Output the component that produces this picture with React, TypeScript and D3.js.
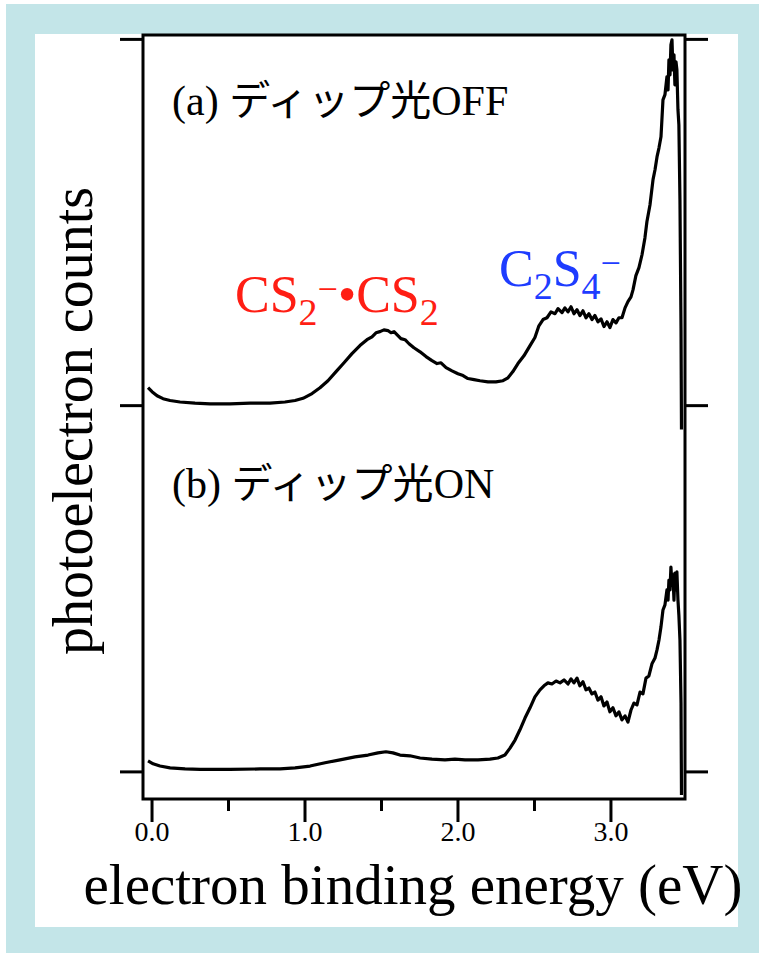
import React from "react";
import * as d3 from "d3";

// binding energy (eV) and counts for (a) dip light OFF
const energyA = [-0.026, 0, 0.033, 0.072, 0.118, 0.183, 0.281, 0.379, 0.51, 0.641, 0.771, 0.869, 0.935, 0.987, 1.046, 1.098, 1.15, 1.203, 1.255, 1.307, 1.359, 1.405, 1.438, 1.464, 1.49, 1.516, 1.542, 1.562, 1.582, 1.601, 1.627, 1.654, 1.68, 1.712, 1.752, 1.791, 1.83, 1.863, 1.889, 1.922, 1.961, 2.0, 2.033, 2.065, 2.105, 2.144, 2.196, 2.248, 2.294, 2.327, 2.359, 2.392, 2.431, 2.471, 2.503, 2.529, 2.556, 2.582, 2.608, 2.634, 2.654, 2.68, 2.699, 2.719, 2.739, 2.758, 2.778, 2.797, 2.817, 2.837, 2.856, 2.876, 2.895, 2.915, 2.935, 2.954, 2.974, 2.993, 3.013, 3.033, 3.052, 3.072, 3.092, 3.111, 3.131, 3.144, 3.163, 3.183, 3.203, 3.222, 3.235, 3.255, 3.275, 3.288, 3.301, 3.314, 3.327, 3.333, 3.34, 3.353, 3.366, 3.373, 3.379, 3.386, 3.392, 3.399, 3.405, 3.412, 3.418, 3.425, 3.431, 3.438, 3.444, 3.451, 3.458, 3.461];
const countsA = [0.049, 0.038, 0.027, 0.019, 0.014, 0.01, 0.007, 0.005, 0.005, 0.007, 0.007, 0.01, 0.014, 0.02, 0.033, 0.049, 0.068, 0.093, 0.117, 0.142, 0.164, 0.18, 0.188, 0.199, 0.202, 0.207, 0.205, 0.199, 0.202, 0.194, 0.183, 0.18, 0.169, 0.158, 0.147, 0.134, 0.123, 0.115, 0.117, 0.104, 0.095, 0.087, 0.082, 0.074, 0.071, 0.068, 0.065, 0.065, 0.068, 0.076, 0.093, 0.115, 0.136, 0.164, 0.186, 0.218, 0.235, 0.24, 0.256, 0.251, 0.265, 0.254, 0.267, 0.256, 0.27, 0.251, 0.262, 0.246, 0.259, 0.24, 0.251, 0.235, 0.246, 0.229, 0.237, 0.216, 0.229, 0.213, 0.235, 0.226, 0.24, 0.24, 0.267, 0.284, 0.297, 0.316, 0.355, 0.377, 0.412, 0.458, 0.502, 0.548, 0.617, 0.644, 0.679, 0.704, 0.734, 0.78, 0.835, 0.849, 0.898, 0.862, 0.944, 0.903, 0.985, 0.999, 0.917, 0.958, 0.876, 0.939, 0.917, 0.808, 0.767, 0.562, 0.207, -0.065];

// (b) dip light ON
const energyB = [-0.026, 0.007, 0.052, 0.118, 0.216, 0.314, 0.51, 0.706, 0.837, 0.935, 1.033, 1.131, 1.229, 1.327, 1.412, 1.477, 1.529, 1.575, 1.621, 1.686, 1.752, 1.83, 1.915, 1.98, 2.046, 2.131, 2.209, 2.261, 2.307, 2.34, 2.373, 2.405, 2.438, 2.471, 2.503, 2.536, 2.562, 2.588, 2.614, 2.641, 2.667, 2.693, 2.719, 2.739, 2.758, 2.778, 2.797, 2.817, 2.837, 2.856, 2.876, 2.895, 2.915, 2.935, 2.954, 2.974, 2.993, 3.013, 3.033, 3.052, 3.072, 3.092, 3.111, 3.131, 3.15, 3.17, 3.19, 3.209, 3.229, 3.248, 3.268, 3.288, 3.301, 3.314, 3.327, 3.34, 3.353, 3.366, 3.373, 3.379, 3.386, 3.392, 3.399, 3.405, 3.412, 3.418, 3.425, 3.431, 3.438, 3.444, 3.451, 3.458, 3.461];
const countsB = [0.03, 0.022, 0.016, 0.011, 0.008, 0.007, 0.007, 0.008, 0.008, 0.011, 0.016, 0.025, 0.033, 0.041, 0.046, 0.052, 0.055, 0.052, 0.046, 0.044, 0.038, 0.035, 0.033, 0.035, 0.033, 0.033, 0.035, 0.038, 0.046, 0.065, 0.087, 0.115, 0.147, 0.175, 0.205, 0.224, 0.235, 0.243, 0.24, 0.248, 0.243, 0.251, 0.24, 0.254, 0.243, 0.256, 0.235, 0.246, 0.224, 0.229, 0.213, 0.218, 0.196, 0.205, 0.18, 0.191, 0.164, 0.175, 0.153, 0.164, 0.142, 0.153, 0.136, 0.169, 0.188, 0.183, 0.218, 0.213, 0.256, 0.262, 0.295, 0.311, 0.333, 0.36, 0.396, 0.442, 0.456, 0.497, 0.469, 0.524, 0.497, 0.559, 0.51, 0.538, 0.469, 0.543, 0.497, 0.546, 0.469, 0.428, 0.36, 0.188, -0.063];

// spectrum (a) sits one unit above (b)
const offsetA = 1;
const offsetB = 0;
const yTicks = [0, 1, 2];

const W = 759;
const H = 953;
const serif = "'Liberation Serif', 'Times New Roman', serif";
const jp = "'Noto Sans CJK JP', sans-serif";

const App = () => {
  const x = d3.scaleLinear().domain([-0.059, 3.484]).range([143, 685]);
  const y = d3.scaleLinear().domain([-0.074, 2.012]).range([799, 35]);

  const line = d3
    .line<[number, number]>()
    .x((d) => x(d[0]))
    .y((d) => y(d[1]));

  const ptsA = energyA.map((e, i) => [e, countsA[i] + offsetA] as [number, number]);
  const ptsB = energyB.map((e, i) => [e, countsB[i] + offsetB] as [number, number]);

  const xt = x.ticks(7);
  const fmt = d3.format(".1f");
  const [x0, x1] = x.range();
  const [yb, yt] = y.range();

  return (
    <svg width={W} height={H} style={{ position: "absolute", left: 0, top: 0 }}>
      <rect x={6} y={4} width={W - 6} height={H - 4} fill="#c3e5e8" />
      <rect x={35} y={34} width={703} height={893} fill="#ffffff" />

      <path d={line(ptsA) ?? ""} fill="none" stroke="#000" strokeWidth={3.2} strokeLinejoin="round" />
      <path d={line(ptsB) ?? ""} fill="none" stroke="#000" strokeWidth={3.2} strokeLinejoin="round" />

      <rect x={x0} y={yt} width={x1 - x0} height={yb - yt} fill="none" stroke="#000" strokeWidth={3} />

      {yTicks.map((t) => (
        <g key={t}>
          <line x1={x0 - 23} x2={x0} y1={y(t)} y2={y(t)} stroke="#000" strokeWidth={3} />
          <line x1={x1} x2={x1 + 23} y1={y(t)} y2={y(t)} stroke="#000" strokeWidth={3} />
        </g>
      ))}

      {xt.map((t) => {
        const major = Math.abs(t - Math.round(t)) < 1e-9;
        return (
          <g key={t}>
            <line x1={x(t)} x2={x(t)} y1={yb} y2={yb + (major ? 23 : 12)} stroke="#000" strokeWidth={3} />
            {major && (
              <text x={x(t)} y={841} textAnchor="middle" fontFamily={serif} fontSize={28}>
                {fmt(t)}
              </text>
            )}
          </g>
        );
      })}

      <text x={413} y={904} textAnchor="middle" fontFamily={serif} fontSize={57}>
        electron binding energy (eV)
      </text>
      <text
        transform="translate(92,421) rotate(-90)"
        textAnchor="middle"
        fontFamily={serif}
        fontSize={56}
      >
        photoelectron counts
      </text>

      <text x={172} y={115} fontSize={42} fontFamily={serif}>
        <tspan>(a) </tspan>
        <tspan fontFamily={jp} fontSize={41}>ディップ光</tspan>
        <tspan>OFF</tspan>
      </text>
      <text x={172} y={498} fontSize={42} fontFamily={serif}>
        <tspan>(b) </tspan>
        <tspan fontFamily={jp} fontSize={41}>ディップ光</tspan>
        <tspan>ON</tspan>
      </text>

      <text x={235} y={312} fontSize={52} fontFamily={serif} fill="#ff1e14">
        <tspan>CS</tspan>
        <tspan fontSize={38} dy={13}>2</tspan>
        <tspan fontSize={36} dy={-24}>−</tspan>
        <tspan dy={11}>•CS</tspan>
        <tspan fontSize={38} dy={13}>2</tspan>
      </text>
      <text x={499} y={286} fontSize={52} fontFamily={serif} fill="#1e3cff">
        <tspan>C</tspan>
        <tspan fontSize={38} dy={13}>2</tspan>
        <tspan dy={-13}>S</tspan>
        <tspan fontSize={38} dy={13}>4</tspan>
        <tspan fontSize={36} dy={-24}>−</tspan>
      </text>
    </svg>
  );
};

export default App;
